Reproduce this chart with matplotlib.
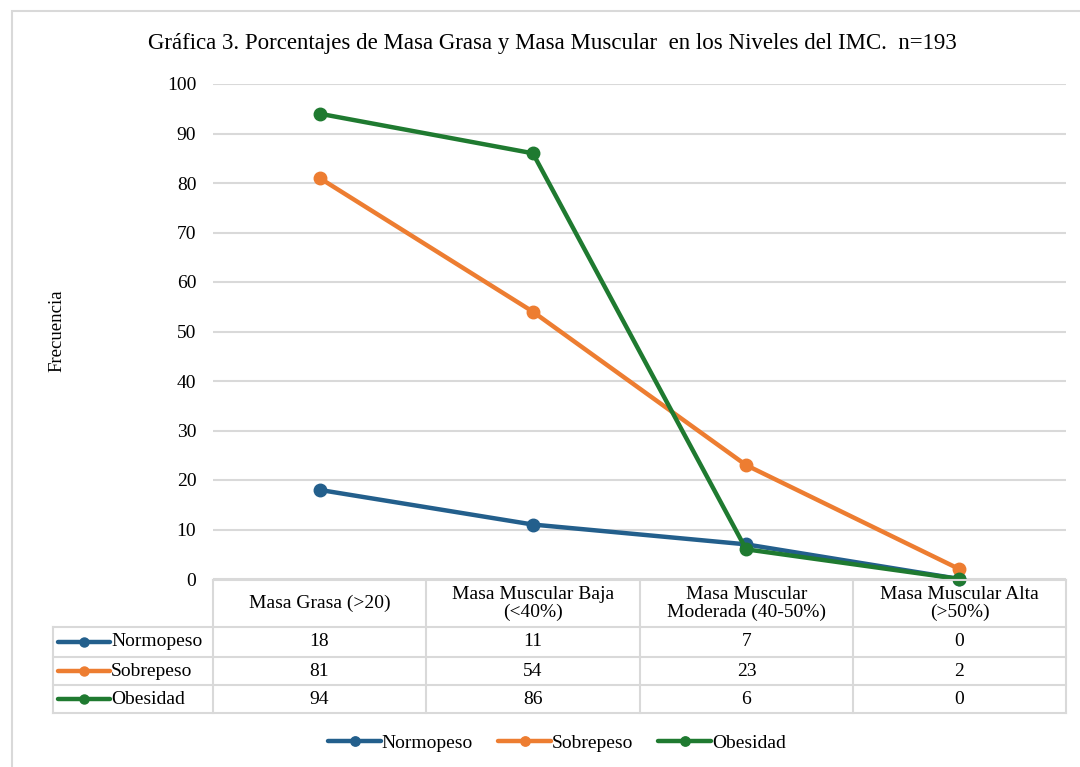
import matplotlib
matplotlib.use("Agg")
import matplotlib.pyplot as plt
from matplotlib.lines import Line2D
from matplotlib.patches import Rectangle

plt.rcParams['font.family'] = ['Liberation Serif', 'DejaVu Serif']

# data
categorias = ['Masa Grasa (>20)', 'Masa Muscular Baja\n(<40%)',
              'Masa Muscular\nModerada (40-50%)', 'Masa Muscular Alta\n(>50%)']
series = ['Normopeso', 'Sobrepeso', 'Obesidad']
normopeso = [18, 11, 7, 0]
sobrepeso = [81, 54, 23, 2]
obesidad = [94, 86, 6, 0]
valores = [normopeso, sobrepeso, obesidad]
colores = ['#235f8c', '#ed7d31', '#1f7a30']
titulo = 'Gráfica 3. Porcentajes de Masa Grasa y Masa Muscular  en los Niveles del IMC.  n=193'

W, H = 1080, 767
fig = plt.figure(figsize=(W / 100, H / 100), dpi=100)


def fx(x):
    return x / W


def fy(y):
    return 1 - y / H


grid_c = '#d9d9d9'

# outer frame (cropped at right/bottom)
fig.add_artist(Rectangle((fx(12), fy(800)), fx(1100), fy(11) - fy(800),
                         transform=fig.transFigure, fill=False,
                         edgecolor=grid_c, lw=1.5))

x_left, x_right = 213, 1066
y_top, y_bot = 84, 579
ax = fig.add_axes([fx(x_left), fy(y_bot), fx(x_right - x_left), fy(y_top) - fy(y_bot)])
ax.set_xlim(-0.5, len(categorias) - 0.5)
ax.set_ylim(0, 100)
ax.set_yticks(range(0, 101, 10))
ax.set_xticks([])
ax.grid(axis='y', color=grid_c, lw=1.5)
ax.set_axisbelow(True)
for s in ax.spines.values():
    s.set_visible(False)
ax.tick_params(axis='y', length=0, pad=12, labelsize=14)

x = range(len(categorias))
for nombre, v, c in zip(series, valores, colores):
    ax.plot(x, v, color=c, lw=3.2, marker='o', ms=9, label=nombre,
            solid_capstyle='round', clip_on=False, zorder=3)

fig.text(fx(552), fy(44), titulo, ha='center', va='center', fontsize=16.5)
fig.text(fx(57), fy(331), 'Frecuencia', rotation=90, ha='center', va='center', fontsize=13.5)

# data table
col_edges = [213, 426, 640, 853, 1066]
row_edges = [580, 627, 657, 685, 713]
lab_left = 53
tbl_lw = 1.5
fs_tbl = 14


def hline(x0, x1, y):
    fig.add_artist(Line2D([fx(x0), fx(x1)], [fy(y), fy(y)], transform=fig.transFigure,
                          color=grid_c, lw=tbl_lw))


def vline(x, y0, y1):
    fig.add_artist(Line2D([fx(x), fx(x)], [fy(y0), fy(y1)], transform=fig.transFigure,
                          color=grid_c, lw=tbl_lw))


hline(col_edges[0], col_edges[-1], row_edges[0])
for y in row_edges[1:]:
    hline(lab_left, col_edges[-1], y)
vline(lab_left, row_edges[1], row_edges[-1])
for xe in col_edges:
    vline(xe, row_edges[0], row_edges[-1])

for j, cat in enumerate(categorias):
    cx = (col_edges[j] + col_edges[j + 1]) / 2
    cy = (row_edges[0] + row_edges[1]) / 2
    fig.text(fx(cx), fy(cy), cat, ha='center', va='center', fontsize=fs_tbl, linespacing=1.05)

for i, (nombre, v, c) in enumerate(zip(series, valores, colores)):
    cy = (row_edges[i + 1] + row_edges[i + 2]) / 2
    fig.add_artist(Line2D([fx(58), fx(110)], [fy(cy), fy(cy)], transform=fig.transFigure,
                          color=c, lw=3.2, solid_capstyle='round'))
    fig.add_artist(Line2D([fx(84)], [fy(cy)], transform=fig.transFigure,
                          color=c, marker='o', ms=6.5))
    fig.text(fx(111), fy(cy), nombre, ha='left', va='center', fontsize=fs_tbl)
    for j, val in enumerate(v):
        cx = (col_edges[j] + col_edges[j + 1]) / 2
        fig.text(fx(cx), fy(cy), str(val), ha='center', va='center', fontsize=fs_tbl)

# legend at bottom
leg = fig.legend(loc='center', bbox_to_anchor=(fx(557), fy(743)), ncol=3, frameon=False,
                 fontsize=14, handlelength=2.7, handletextpad=0.05, columnspacing=1.3,
                 markerscale=0.75)

fig.savefig('out.png', dpi=100)
